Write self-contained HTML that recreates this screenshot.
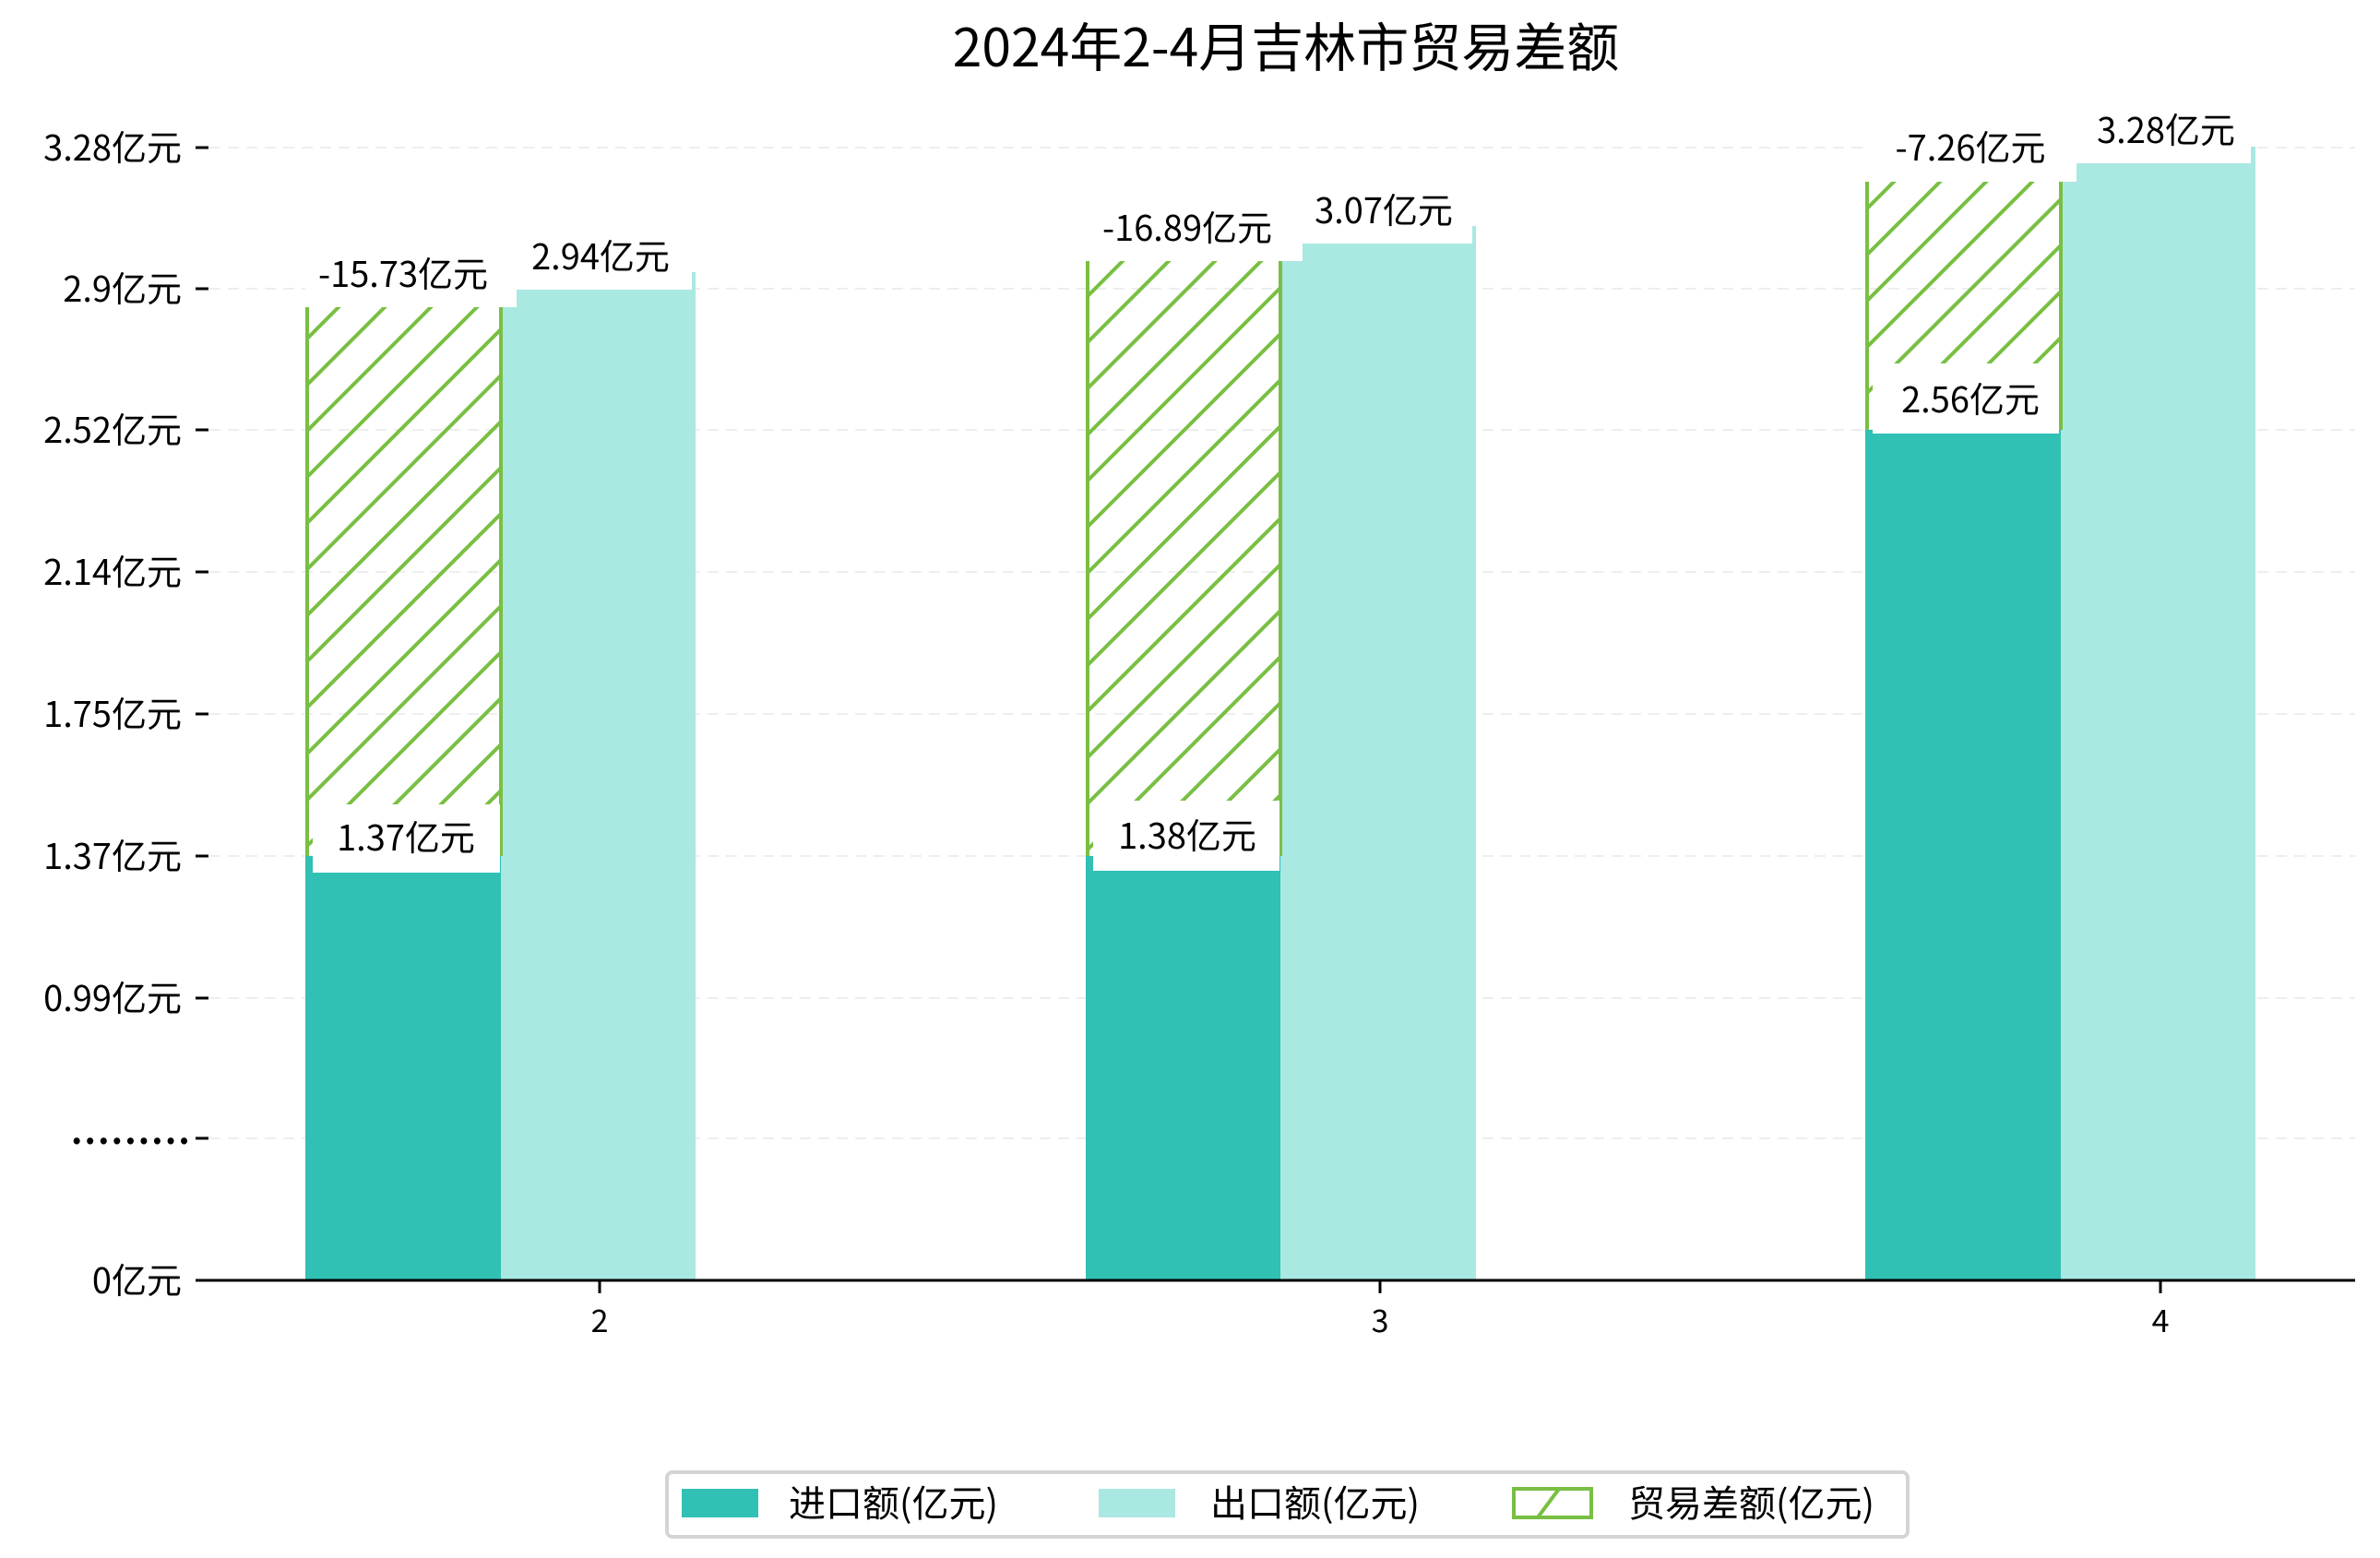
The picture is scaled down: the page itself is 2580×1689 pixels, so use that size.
<!DOCTYPE html>
<html><head><meta charset="utf-8"><style>
html,body{margin:0;padding:0;background:#fff}
svg{display:block}
text{font-family:"Noto Sans CJK SC","WenQuanYi Zen Hei",sans-serif;fill:#000}
</style></head><body>
<svg width="2580" height="1689" viewBox="0 0 2580 1689" xmlns="http://www.w3.org/2000/svg">
<defs>
<pattern id="h" patternUnits="userSpaceOnUse" width="50" height="50">
<path d="M-10,60 L60,-10 M-60,60 L10,-10 M40,60 L110,-10" stroke="#79bf43" stroke-width="4"/>
</pattern>
</defs>
<g stroke="#eeeeee" stroke-width="2" stroke-dasharray="12,8">
<line x1="227" x2="2553" y1="160" y2="160"/>
<line x1="227" x2="2553" y1="313" y2="313"/>
<line x1="227" x2="2553" y1="466" y2="466"/>
<line x1="227" x2="2553" y1="620" y2="620"/>
<line x1="227" x2="2553" y1="774" y2="774"/>
<line x1="227" x2="2553" y1="928" y2="928"/>
<line x1="227" x2="2553" y1="1082" y2="1082"/>
<line x1="227" x2="2553" y1="1234" y2="1234"/>
</g>
<g stroke="#000" stroke-width="3">
<line x1="212" x2="226" y1="160" y2="160"/><line x1="212" x2="226" y1="313" y2="313"/>
<line x1="212" x2="226" y1="466" y2="466"/><line x1="212" x2="226" y1="620" y2="620"/>
<line x1="212" x2="226" y1="774" y2="774"/><line x1="212" x2="226" y1="928" y2="928"/>
<line x1="212" x2="226" y1="1082" y2="1082"/><line x1="212" x2="226" y1="1234" y2="1234"/>
<line x1="212" x2="226" y1="1388" y2="1388"/>
</g>
<g font-size="38" text-anchor="end">
<text x="197" y="174">3.28亿元</text>
<text x="197" y="327">2.9亿元</text>
<text x="197" y="480">2.52亿元</text>
<text x="197" y="634">2.14亿元</text>
<text x="197" y="788">1.75亿元</text>
<text x="197" y="942">1.37亿元</text>
<text x="197" y="1096">0.99亿元</text>
<text x="197" y="1402">0亿元</text>
</g>
<text x="77" y="1240" font-size="38" font-family="Liberation Sans" font-weight="bold" letter-spacing="2.2">.........</text>
<rect x="331" y="928" width="212" height="460" fill="#31c0b4"/>
<rect x="543" y="295" width="211" height="1093" fill="#aae8e2"/>
<rect x="333" y="333" width="208" height="595" fill="url(#h)"/>
<line x1="333" x2="333" y1="333" y2="928" stroke="#79bf43" stroke-width="4"/>
<line x1="543" x2="543" y1="333" y2="928" stroke="#79bf43" stroke-width="4"/>
<rect x="1177" y="928" width="212" height="460" fill="#31c0b4"/>
<rect x="1388" y="245" width="212" height="1143" fill="#aae8e2"/>
<rect x="1179" y="283" width="208" height="645" fill="url(#h)"/>
<line x1="1179" x2="1179" y1="283" y2="928" stroke="#79bf43" stroke-width="4"/>
<line x1="1388" x2="1388" y1="283" y2="928" stroke="#79bf43" stroke-width="4"/>
<rect x="2022" y="466" width="212" height="922" fill="#31c0b4"/>
<rect x="2234" y="159" width="211" height="1229" fill="#aae8e2"/>
<rect x="2024" y="197" width="208" height="252" fill="url(#h)"/>
<line x1="2024" x2="2024" y1="197" y2="466" stroke="#79bf43" stroke-width="4"/>
<line x1="2234" x2="2234" y1="197" y2="466" stroke="#79bf43" stroke-width="4"/>
<g fill="#fff">
<rect x="331" y="262" width="229" height="71"/>
<rect x="543" y="252" width="207" height="62"/>
<rect x="339" y="872" width="203" height="74"/>
<rect x="1177" y="212" width="235" height="71"/>
<rect x="1405" y="200" width="191" height="64"/>
<rect x="1185" y="868" width="202" height="76"/>
<rect x="2022" y="127" width="229" height="70"/>
<rect x="2250" y="115" width="190" height="62"/>
<rect x="2030" y="394" width="202" height="76"/>
</g>
<g font-size="38" text-anchor="middle">
<text x="437" y="311">-15.73亿元</text>
<text x="651" y="292">2.94亿元</text>
<text x="440" y="922">1.37亿元</text>
<text x="1287" y="261">-16.89亿元</text>
<text x="1500" y="242">3.07亿元</text>
<text x="1287" y="920">1.38亿元</text>
<text x="2136" y="174">-7.26亿元</text>
<text x="2348" y="155">3.28亿元</text>
<text x="2136" y="447">2.56亿元</text>
</g>
<line x1="212" x2="2553" y1="1388" y2="1388" stroke="#000" stroke-width="3"/>
<g stroke="#000" stroke-width="3">
<line x1="650" x2="650" y1="1388" y2="1402"/>
<line x1="1496" x2="1496" y1="1388" y2="1402"/>
<line x1="2342" x2="2342" y1="1388" y2="1402"/>
</g>
<g font-size="34" text-anchor="middle">
<text x="650" y="1444">2</text><text x="1496" y="1444">3</text><text x="2342" y="1444">4</text>
</g>
<text x="1394" y="72" font-size="57" text-anchor="middle">2024年2-4月吉林市贸易差额</text>
<rect x="723" y="1596" width="1345" height="70" rx="6" fill="#fff" stroke="#d4d4d4" stroke-width="4"/>
<rect x="739" y="1614" width="83" height="31" fill="#31c0b4"/>
<text x="855" y="1644" font-size="40">进口额(亿元)</text>
<rect x="1191" y="1614" width="83" height="31" fill="#aae8e2"/>
<text x="1312" y="1644" font-size="40">出口额(亿元)</text>
<rect x="1641" y="1614" width="84" height="31" fill="#fff" stroke="#79bf43" stroke-width="4"/>
<line x1="1667" x2="1690" y1="1645" y2="1614" stroke="#79bf43" stroke-width="4"/>
<text x="1765" y="1644" font-size="40">贸易差额(亿元)</text>
</svg>
</body></html>
